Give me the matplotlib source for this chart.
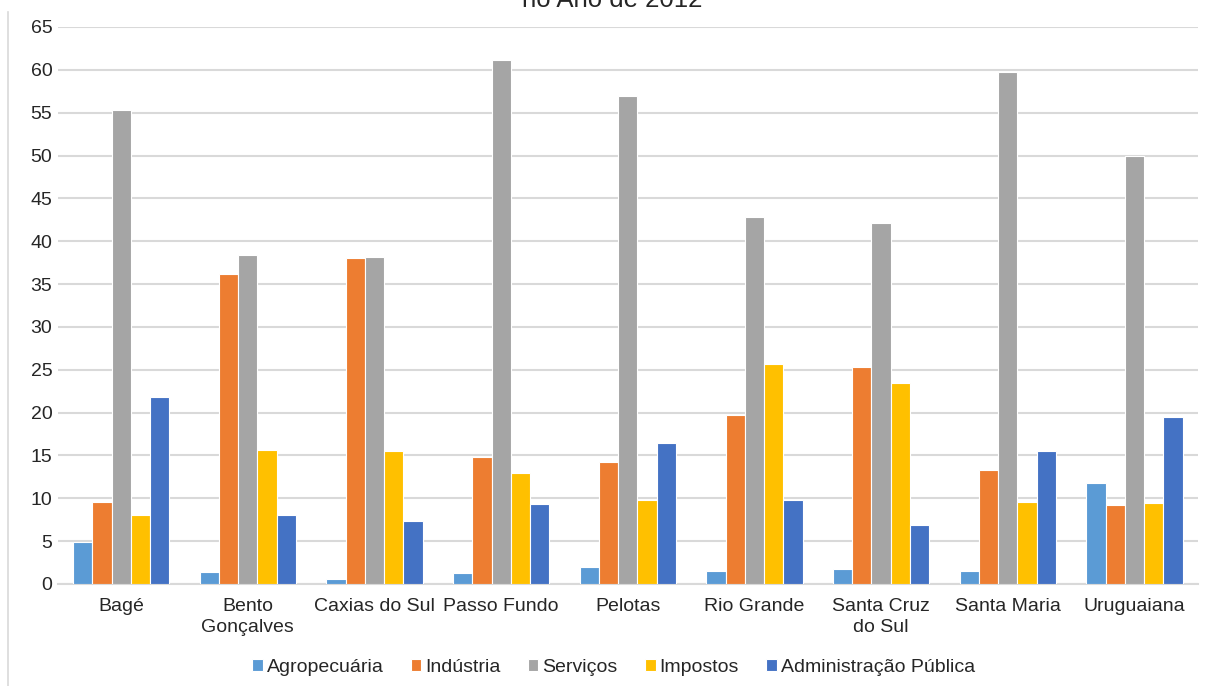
import matplotlib
matplotlib.use("Agg")
from matplotlib import pyplot as plt
from matplotlib.lines import Line2D
import numpy as np

plt.rcParams['font.family'] = ['Liberation Sans', 'DejaVu Sans']

cidades = ['Bagé', 'Bento\nGonçalves', 'Caxias do Sul', 'Passo Fundo', 'Pelotas',
           'Rio Grande', 'Santa Cruz\ndo Sul', 'Santa Maria', 'Uruguaiana']

agropecuaria = [4.9, 1.4, 0.6, 1.3, 2.0, 1.5, 1.8, 1.5, 11.8]
industria = [9.6, 36.2, 38.0, 14.8, 14.2, 19.7, 25.3, 13.3, 9.2]
servicos = [55.3, 38.4, 38.2, 61.1, 57.0, 42.8, 42.1, 59.7, 50.0]
impostos = [8.0, 15.6, 15.5, 13.0, 9.8, 25.7, 23.5, 9.6, 9.4]
adm_publica = [21.8, 8.0, 7.4, 9.3, 16.5, 9.8, 6.9, 15.5, 19.5]

series = [
    ('Agropecuária', agropecuaria, '#5B9BD5'),
    ('Indústria', industria, '#ED7D31'),
    ('Serviços', servicos, '#A5A5A5'),
    ('Impostos', impostos, '#FFC000'),
    ('Administração Pública', adm_publica, '#4472C4'),
]

fig = plt.figure(figsize=(12.05, 6.86), dpi=100)
ax = fig.add_axes([0.048, 0.1487, 0.946, 0.812])

x = np.arange(len(cidades))
w = 0.152
for i, (nome, vals, cor) in enumerate(series):
    ax.bar(x + (i - 2) * w, vals, width=w, color=cor, edgecolor='white',
           linewidth=0.8, label=nome, zorder=3)

ax.set_xlim(-0.5, len(cidades) - 0.5)
ax.set_ylim(0, 65)
ax.set_yticks(range(0, 66, 5))
ax.set_xticks(x)
ax.set_xticklabels(cidades, fontsize=14, color='#262626', linespacing=1.3)
ax.tick_params(axis='y', labelsize=14, labelcolor='#262626', length=0, pad=4)
ax.tick_params(axis='x', length=0, pad=10)
ax.grid(axis='y', color='#D9D9D9', linewidth=1.5, zorder=0)
for s in ['top', 'right', 'left']:
    ax.spines[s].set_visible(False)
ax.spines['bottom'].set_color('#D9D9D9')
ax.spines['bottom'].set_linewidth(1.5)

fig.legend(loc='center', bbox_to_anchor=(0.509, 0.027), ncol=5, frameon=False,
           fontsize=14, handlelength=0.55, handleheight=0.55, handletextpad=0.2,
           columnspacing=1.4, labelcolor='#262626')

fig.text(0.508, 1 - 7 / 686, 'no Ano de 2012', ha='center', va='baseline',
         fontsize=18.5, color='#262626')

# borda esquerda do quadro do gráfico
fig.add_artist(Line2D([8 / 1205, 8 / 1205], [0, 1 - 12 / 686],
                      transform=fig.transFigure, color='#D9D9D9', linewidth=1.2))

fig.savefig('out.png', dpi=100)
